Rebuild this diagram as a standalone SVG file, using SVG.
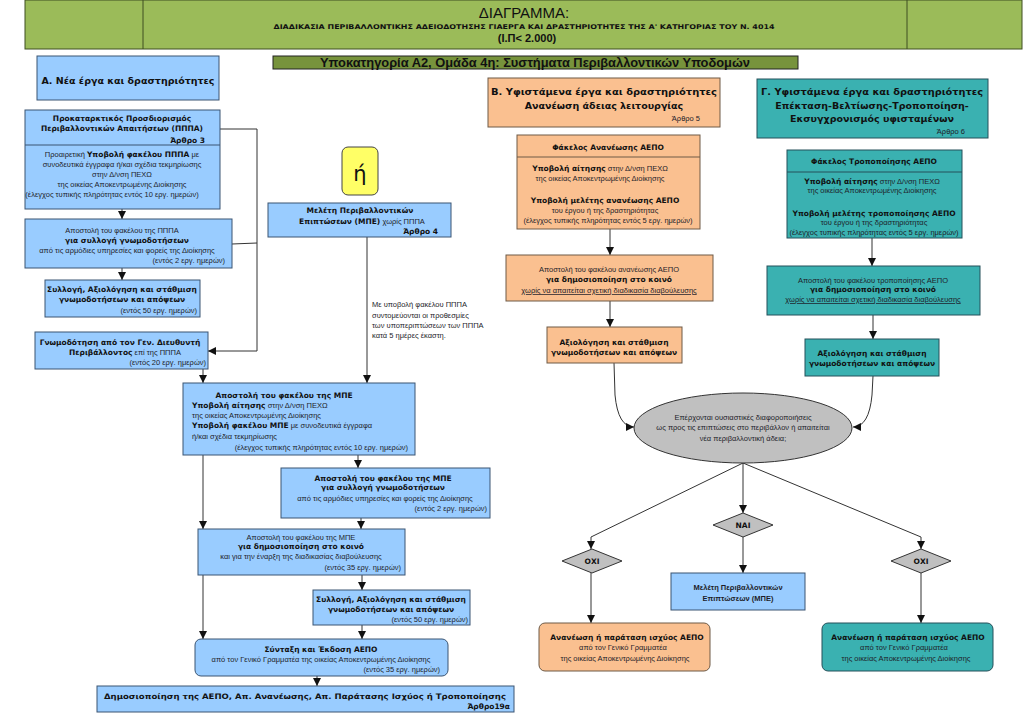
<svg xmlns="http://www.w3.org/2000/svg" width="1024" height="725" viewBox="0 0 1024 725">
<style>
.bx{fill:#99CCFF;stroke:#3B5573;stroke-width:1}
.or{fill:#FAC090;stroke:#6E5A46;stroke-width:1}
.tl{fill:#3AB1B1;stroke:#25505A;stroke-width:1}
.gr{fill:#C0C0C0;stroke:#333;stroke-width:1}
.t{font-family:"Liberation Sans",Arial,sans-serif;font-size:7.5px;fill:#1E1E2A}
.b{font-family:"DejaVu Sans",sans-serif;font-weight:bold;font-size:7.5px;fill:#111}
.bb{font-family:"DejaVu Sans",sans-serif;font-weight:bold;fill:#111}
.h{font-family:"DejaVu Sans",sans-serif;font-weight:bold;font-size:9.5px;fill:#111}
.c{text-anchor:middle}
.e{text-anchor:end}
.cn{fill:none;stroke:#333;stroke-width:1}
</style>
<defs>
<marker id="ah" viewBox="0 0 10 10" refX="10" refY="5" markerWidth="8" markerHeight="8" markerUnits="userSpaceOnUse" orient="auto">
<path d="M0,0 L10,5 L0,10 z" fill="#111"/>
</marker>
</defs>
<rect width="1024" height="725" fill="#fff"/>

<g id="header">
<rect x="25" y="0" width="997" height="49" fill="#9BBB59" stroke="#3F4F22"/>
<line x1="143" y1="0" x2="143" y2="49" stroke="#3F4F22"/>
<line x1="907" y1="0" x2="907" y2="49" stroke="#3F4F22"/>
<text x="524" y="18" class="c" font-family="Liberation Sans,Arial,sans-serif" font-size="15" fill="#111">ΔΙΑΓΡΑΜΜΑ:</text>
<text x="524" y="29" class="c bb" font-size="6.5" textLength="501" lengthAdjust="spacingAndGlyphs">ΔΙΑΔΙΚΑΣΙΑ ΠΕΡΙΒΑΛΛΟΝΤΙΚΗΣ ΑΔΕΙΟΔΟΤΗΣΗΣ ΓΙΑΕΡΓΑ ΚΑΙ ΔΡΑΣΤΗΡΙΟΤΗΤΕΣ ΤΗΣ Α' ΚΑΤΗΓΟΡΙΑΣ ΤΟΥ Ν. 4014</text>
<text x="527" y="42" class="c" font-family="Liberation Sans,Arial,sans-serif" font-weight="bold" font-size="11" fill="#111">(Ι.Π&lt; 2.000)</text>
</g>

<g id="subcategory">
<rect x="273" y="56" width="525" height="13" fill="#77933C" stroke="#222"/>
<text x="535" y="67" class="c" font-family="Liberation Sans,Arial,sans-serif" font-weight="bold" font-size="12" fill="#111" textLength="430" lengthAdjust="spacingAndGlyphs">Υποκατηγορία Α2, Ομάδα 4η: Συστήματα Περιβαλλοντικών Υποδομών</text>
</g>

<g id="connectors">
<path class="cn" d="M122,209 V219" marker-end="url(#ah)"/>
<path class="cn" d="M122,268 V280" marker-end="url(#ah)"/>
<path class="cn" d="M219,129 H257 V351 H208" marker-end="url(#ah)"/>
<path class="cn" d="M232,244 L257,243"/>
<path class="cn" d="M203,369 V383" marker-end="url(#ah)"/>
<path class="cn" d="M367,237 V383" marker-end="url(#ah)"/>
<path class="cn" d="M358,455 V468" marker-end="url(#ah)"/>
<path class="cn" d="M203,455 V529" marker-end="url(#ah)"/>
<path class="cn" d="M361,518 V529" marker-end="url(#ah)"/>
<path class="cn" d="M203,575 V639" marker-end="url(#ah)"/>
<path class="cn" d="M362,575 V590" marker-end="url(#ah)"/>
<path class="cn" d="M362,625 V639" marker-end="url(#ah)"/>
<path class="cn" d="M317,676 V686" marker-end="url(#ah)"/>
<path class="cn" d="M610,229 V255" marker-end="url(#ah)"/>
<path class="cn" d="M610,301 V327" marker-end="url(#ah)"/>
<path class="cn" d="M614,363 L615,395 Q618,427 634,427" marker-end="url(#ah)"/>
<path class="cn" d="M872,238 V266" marker-end="url(#ah)"/>
<path class="cn" d="M873,315 V339" marker-end="url(#ah)"/>
<path class="cn" d="M873,376 L872,395 Q869,427 853,427" marker-end="url(#ah)"/>
<path class="cn" d="M743,463 V513" marker-end="url(#ah)"/>
<path class="cn" d="M743,463 L591,537 V549" marker-end="url(#ah)"/>
<path class="cn" d="M743,463 L921,537 V549" marker-end="url(#ah)"/>
<path class="cn" d="M743,537 V573" marker-end="url(#ah)"/>
<path class="cn" d="M591,573 V623" marker-end="url(#ah)"/>
<path class="cn" d="M921,573 V623" marker-end="url(#ah)"/>
</g>

<g id="nodeA-title">
<rect class="bx" x="37" y="56" width="182" height="44"/>
<text x="128" y="84" class="h c" textLength="173" lengthAdjust="spacingAndGlyphs">Α. Νέα έργα και δραστηριότητες</text>
</g>

<g id="nodeA-pppa">
<rect class="bx" x="25" y="110" width="195" height="99"/>
<line x1="25" y1="145" x2="220" y2="145" stroke="#3B5573"/>
<text x="122" y="121" class="b c">Προκαταρκτικός Προσδιορισμός</text>
<text x="122" y="131" class="b c">Περιβαλλοντικών Απαιτήσεων (ΠΠΠΑ)</text>
<text x="205" y="143" class="b e">Άρθρο 3</text>
<text x="122" y="157" class="t c">Προαιρετική <tspan class="bb">Υποβολή φακέλου ΠΠΠΑ</tspan> με</text>
<text x="122" y="167" class="t c">συνοδευτικά έγγραφα ή/και σχέδια τεκμηρίωσης</text>
<text x="122" y="177" class="t c">στην Δ/νση ΠΕΧΩ</text>
<text x="122" y="187" class="t c">της οικείας Αποκεντρωμένης Διοίκησης</text>
<text x="112" y="197" class="t c">(έλεγχος τυπικής πληρότητας εντός 10 εργ. ημερών)</text>
</g>

<g id="nodeA-send">
<rect class="bx" x="25" y="219" width="207" height="49"/>
<text x="122" y="233" class="t c">Αποστολή του φακέλου της ΠΠΠΑ</text>
<text x="127" y="243" class="b c">για συλλογή γνωμοδοτήσεων</text>
<text x="127" y="253" class="t c">από τις αρμόδιες υπηρεσίες και φορείς της Διοίκησης</text>
<text x="225" y="263" class="t e">(εντός 2 εργ. ημερών)</text>
</g>

<g id="nodeA-collect">
<rect class="bx" x="45" y="280" width="155" height="37"/>
<text x="122" y="292" class="b c">Συλλογή, Αξιολόγηση και στάθμιση</text>
<text x="122" y="302" class="b c">γνωμοδοτήσεων και απόψεων</text>
<text x="197" y="313" class="t e">(εντός 50 εργ. ημερών)</text>
</g>

<g id="nodeA-opinion">
<rect class="bx" x="35" y="332" width="173" height="37"/>
<text x="120" y="345" class="b c">Γνωμοδότηση από τον Γεν. Διευθυντή</text>
<text x="125" y="355" class="t c"><tspan class="bb">Περιβάλλοντος</tspan> επί της ΠΠΠΑ</text>
<text x="206" y="365" class="t e">(εντός 20 εργ. ημερών)</text>
</g>

<g id="node-or">
<rect x="342" y="147" width="36" height="48" rx="6" fill="#FFFF66" stroke="#444"/>
<text x="360" y="181" class="c" font-family="DejaVu Sans,sans-serif" font-size="21" fill="#111">ή</text>
</g>

<g id="node-mpe-direct">
<rect class="bx" x="268" y="203" width="183" height="34"/>
<text x="360" y="213" class="b c">Μελέτη Περιβαλλοντικών</text>
<text x="362" y="224" class="t c"><tspan class="bb">Επιπτώσεων (ΜΠΕ)</tspan> χωρίς ΠΠΠΑ</text>
<text x="438" y="234" class="b e">Άρθρο 4</text>
</g>

<g id="note">
<text x="372" y="307" class="t" font-size="8">Με υποβολή φακέλου ΠΠΠΑ</text>
<text x="372" y="318" class="t" font-size="8">συντομεύονται οι προθεσμίες</text>
<text x="372" y="328" class="t" font-size="8">των υποπεριπτώσεων των ΠΠΠΑ</text>
<text x="372" y="338" class="t" font-size="8">κατά 5 ημέρες έκαστη.</text>
</g>

<g id="node-mpe-send">
<rect class="bx" x="183" y="383" width="232" height="72"/>
<text x="284" y="398" class="b c">Αποστολή του φακέλου της ΜΠΕ</text>
<text x="192" y="408" class="t"><tspan class="bb">Υποβολή αίτησης</tspan> στην Δ/νση ΠΕΧΩ</text>
<text x="192" y="418" class="t">της οικείας Αποκεντρωμένης Διοίκησης</text>
<text x="192" y="428" class="t"><tspan class="bb">Υποβολή φακέλου ΜΠΕ</tspan> με συνοδευτικά έγγραφα</text>
<text x="192" y="439" class="t">ή/και σχέδια τεκμηρίωσης</text>
<text x="408" y="450" class="t e">(έλεγχος τυπικής πληρότητας εντός 10 εργ. ημερών)</text>
</g>

<g id="node-mpe-opinions">
<rect class="bx" x="281" y="468" width="209" height="50"/>
<text x="383" y="481" class="b c">Αποστολή του φακέλου της ΜΠΕ</text>
<text x="383" y="490" class="b c">για συλλογή γνωμοδοτήσεων</text>
<text x="385" y="501" class="t c">από τις αρμόδιες υπηρεσίες και φορείς της Διοίκησης</text>
<text x="487" y="511" class="t e">(εντός 2 εργ. ημερών)</text>
</g>

<g id="node-mpe-public">
<rect class="bx" x="198" y="529" width="207" height="46"/>
<text x="301" y="540" class="t c">Αποστολή του φακέλου της ΜΠΕ</text>
<text x="301" y="549" class="b c">για δημοσιοποίηση στο κοινό</text>
<text x="301" y="559" class="t c">και για την έναρξη της διαδικασίας διαβούλευσης</text>
<text x="401" y="570" class="t e">(εντός 35 εργ. ημερών)</text>
</g>

<g id="node-mpe-collect">
<rect class="bx" x="313" y="590" width="157" height="35"/>
<text x="391" y="602" class="b c">Συλλογή, Αξιολόγηση και στάθμιση</text>
<text x="391" y="612" class="b c">γνωμοδοτήσεων και απόψεων</text>
<text x="468" y="622" class="t e">(εντός 50 εργ. ημερών)</text>
</g>

<g id="node-issue">
<rect class="bx" x="195" y="639" width="253" height="37" rx="6"/>
<text x="321" y="652" class="b c">Σύνταξη και Έκδοση ΑΕΠΟ</text>
<text x="321" y="662" class="t c">από τον Γενικό Γραμματέα της οικείας Αποκεντρωμένης Διοίκησης</text>
<text x="440" y="672" class="t e">(εντός 35 εργ. ημερών)</text>
</g>

<g id="node-publish">
<rect class="bx" x="97" y="686" width="417" height="26"/>
<text x="305" y="699" class="b c" textLength="402" lengthAdjust="spacingAndGlyphs">Δημοσιοποίηση της ΑΕΠΟ, Απ. Ανανέωσης, Απ. Παράτασης Ισχύος ή Τροποποίησης</text>
<text x="510" y="709" class="b e">Άρθρο19α</text>
</g>

<g id="nodeB-title">
<rect class="or" x="488" y="78" width="232" height="49"/>
<text x="604" y="95" class="h c" textLength="226" lengthAdjust="spacingAndGlyphs">Β. Υφιστάμενα έργα και δραστηριότητες</text>
<text x="604" y="109" class="h c">Ανανέωση άδειας λειτουργίας</text>
<text x="700" y="121" class="t e" font-size="8">Άρθρο 5</text>
</g>

<g id="nodeB-folder">
<rect class="or" x="517" y="135" width="183" height="94"/>
<line x1="517" y1="157" x2="700" y2="157" stroke="#6E5A46"/>
<text x="608" y="150" class="b c">Φάκελος Ανανέωσης ΑΕΠΟ</text>
<text x="600" y="171" class="t c"><tspan class="bb">Υποβολή αίτησης</tspan> στην Δ/νση ΠΕΧΩ</text>
<text x="600" y="181" class="t c">της οικείας Αποκεντρωμένης Διοίκησης</text>
<text x="605" y="203" class="b c">Υποβολή μελέτης ανανέωσης ΑΕΠΟ</text>
<text x="605" y="213" class="t c">του έργου ή της δραστηριότητας</text>
<text x="608" y="223" class="t c">(έλεγχος τυπικής πληρότητας εντός 5 εργ. ημερών)</text>
</g>

<g id="nodeB-public">
<rect class="or" x="506" y="255" width="207" height="46"/>
<text x="609" y="272" class="t c">Αποστολή του φακέλου ανανέωσης ΑΕΠΟ</text>
<text x="609" y="282" class="b c">για δημοσιοποίηση στο κοινό</text>
<text x="609" y="293" class="t c" text-decoration="underline">χωρίς να απαιτείται σχετική διαδικασία διαβούλευσης</text>
</g>

<g id="nodeB-eval">
<rect class="or" x="547" y="327" width="135" height="36"/>
<text x="614" y="345" class="b c">Αξιολόγηση και στάθμιση</text>
<text x="614" y="355" class="b c">γνωμοδοτήσεων και απόψεων</text>
</g>

<g id="nodeG-title">
<rect class="tl" x="757" y="79" width="231" height="59"/>
<text x="872" y="95" class="h c" textLength="222" lengthAdjust="spacingAndGlyphs">Γ. Υφιστάμενα έργα και δραστηριότητες</text>
<text x="872" y="109" class="h c">Επέκταση-Βελτίωσης-Τροποποίηση-</text>
<text x="872" y="122" class="h c">Εκσυγχρονισμός υφισταμένων</text>
<text x="965" y="134" class="t e" font-size="8">Άρθρο 6</text>
</g>

<g id="nodeG-folder">
<rect class="tl" x="787" y="150" width="175" height="88"/>
<line x1="787" y1="172" x2="962" y2="172" stroke="#25505A"/>
<text x="874" y="164" class="b c">Φάκελος Τροποποίησης ΑΕΠΟ</text>
<text x="872" y="184" class="t c"><tspan class="bb">Υποβολή αίτησης</tspan> στην Δ/νση ΠΕΧΩ</text>
<text x="872" y="193" class="t c">της οικείας Αποκεντρωμένης Διοίκησης</text>
<text x="874" y="216" class="b c">Υποβολή μελέτης τροποποίησης ΑΕΠΟ</text>
<text x="874" y="225" class="t c">του έργου ή της δραστηριότητας</text>
<text x="874" y="235" class="t c">(έλεγχος τυπικής πληρότητας εντός 5 εργ. ημερών)</text>
</g>

<g id="nodeG-public">
<rect class="tl" x="767" y="266" width="213" height="49"/>
<text x="873" y="283" class="t c">Αποστολή του φακέλου τροποποίησης ΑΕΠΟ</text>
<text x="873" y="292" class="b c">για δημοσιοποίηση στο κοινό</text>
<text x="873" y="302" class="t c" text-decoration="underline">χωρίς να απαιτείται σχετική διαδικασία διαβούλευσης</text>
</g>

<g id="nodeG-eval">
<rect class="tl" x="805" y="339" width="134" height="37"/>
<text x="872" y="356" class="b c">Αξιολόγηση και στάθμιση</text>
<text x="872" y="366" class="b c">γνωμοδοτήσεων και απόψεων</text>
</g>

<g id="node-question">
<ellipse class="gr" cx="743" cy="428" rx="109" ry="35"/>
<text x="743" y="420" class="t c" font-size="8">Επέρχονται ουσιαστικές διαφοροποιήσεις</text>
<text x="743" y="430" class="t c" font-size="8">ως προς τις επιπτώσεις στο περιβάλλον ή απαιτείται</text>
<text x="743" y="441" class="t c" font-size="8">νέα περιβαλλοντική άδεια;</text>
</g>

<g id="node-yes">
<path class="gr" d="M713,525 L743,513 L773,525 L743,537 z"/>
<text x="743" y="528" class="b c" font-size="7">ΝΑΙ</text>
</g>

<g id="node-no-left">
<path class="gr" d="M562,561 L592,549 L622,561 L592,573 z"/>
<text x="592" y="564" class="b c" font-size="7">ΟΧΙ</text>
</g>

<g id="node-no-right">
<path class="gr" d="M891,561 L921,549 L951,561 L921,573 z"/>
<text x="921" y="564" class="b c" font-size="7">ΟΧΙ</text>
</g>

<g id="node-mpe-new">
<rect class="bx" x="671" y="573" width="134" height="37"/>
<text x="738" y="590" class="t c" font-size="8" font-weight="bold">Μελέτη Περιβαλλοντικών</text>
<text x="738" y="601" class="t c" font-size="8" font-weight="bold">Επιπτώσεων (ΜΠΕ)</text>
</g>

<g id="nodeB-renew">
<rect class="or" x="539" y="623" width="171" height="48" rx="6"/>
<text x="627" y="640" class="b c">Ανανέωση ή παράταση ισχύος ΑΕΠΟ</text>
<text x="623" y="650" class="t c">από τον Γενικό Γραμματέα</text>
<text x="625" y="661" class="t c">της οικείας Αποκεντρωμένης Διοίκησης</text>
</g>

<g id="nodeG-renew">
<rect class="tl" x="822" y="623" width="171" height="48" rx="6"/>
<text x="908" y="640" class="b c">Ανανέωση ή παράταση ισχύος ΑΕΠΟ</text>
<text x="904" y="650" class="t c">από τον Γενικό Γραμματέα</text>
<text x="906" y="661" class="t c">της οικείας Αποκεντρωμένης Διοίκησης</text>
</g>
</svg>
